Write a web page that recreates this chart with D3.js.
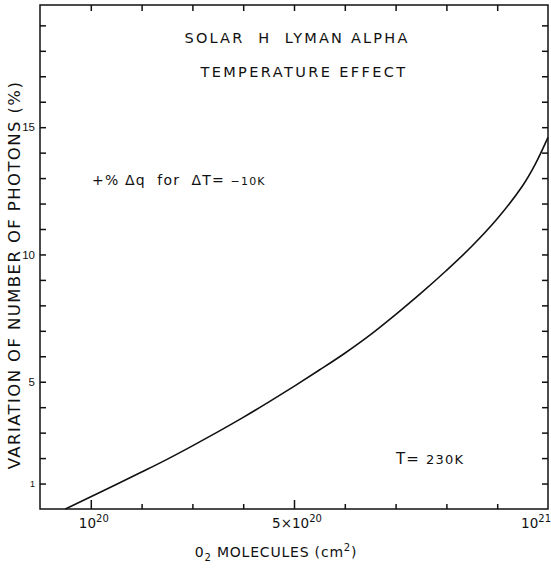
<!DOCTYPE html>
<html>
<head>
<meta charset="utf-8">
<script src="https://cdn.jsdelivr.net/npm/d3@7"></script>
<style>
  body { margin: 0; background: #fff; }
  text { font-family: "DejaVu Sans", "Liberation Sans", Arial, sans-serif; fill: #111; }
</style>
</head>
<body>
<div id="chart"></div>
<script>
// Solar H Lyman alpha - temperature effect

// ==========================================================
// Data (x in units of 1e20 molecules cm-2, y in %)
var columnDensity = [0.5, 1.0, 1.5, 2.0, 2.5, 3.0, 3.5, 4.0, 4.5, 5.0,
                     5.5, 6.0, 6.5, 7.0, 7.5, 8.0, 8.5, 9.0, 9.5, 9.75, 10.0];
var photonChange = [0.0, 0.48, 0.96, 1.45, 1.95, 2.48, 3.03, 3.6, 4.2, 4.82,
                    5.46, 6.12, 6.84, 7.64, 8.48, 9.37, 10.32, 11.4, 12.7, 13.55, 14.6];

var xTicks = [1, 2, 3, 4, 5, 6, 7, 8, 9, 10];
var xMajorTicks = [1, 5];
var xTickBase = ["10", "5\u00d710", "10"];
var xTickExp = ["20", "20", "21"];
var xLabelAt = [1, 5, 10];

var yTicks = d3.range(1, 20);
var yLabelTicks = [1, 5, 10, 15];

// ==========================================================
// Sizes
var svgWidth = 551;
var svgHeight = 568;

var margin = { top: 5, right: 3, bottom: 59, left: 40 };
var width = svgWidth - margin.left - margin.right;
var height = svgHeight - margin.top - margin.bottom;

var svg = d3.select("#chart")
  .append("svg")
  .attr("width", svgWidth)
  .attr("height", svgHeight);

var chartGroup = svg.append("g")
  .attr("transform", `translate(${margin.left}, ${margin.top})`);

var xScale = d3.scaleLinear().domain([0, 10]).range([0, width]);
var yScale = d3.scaleLinear().domain([0, 19.8]).range([height, 0]);

// frame
chartGroup.append("rect")
  .attr("width", width)
  .attr("height", height)
  .attr("fill", "none")
  .attr("stroke", "#111")
  .attr("stroke-width", 1.5);

// ==========================================================
// Axes (ticks point inward)
chartGroup.append("g")
  .attr("class", "axis")
  .attr("transform", `translate(0, ${height})`)
  .call(d3.axisBottom(xScale)
    .tickValues(xTicks.filter(d => xMajorTicks.indexOf(d) < 0 && d < 10))
    .tickSize(-5)
    .tickFormat(""));

chartGroup.append("g")
  .attr("class", "axis")
  .attr("transform", `translate(0, ${height})`)
  .call(d3.axisBottom(xScale).tickValues(xMajorTicks).tickSize(-9).tickFormat(""));

chartGroup.append("g")
  .attr("class", "axis")
  .call(d3.axisTop(xScale).tickValues(xTicks.filter(d => d < 10)).tickSize(-6).tickFormat(""));

var leftAxis = d3.axisLeft(yScale)
  .tickValues(yTicks)
  .tickSize(-6)
  .tickPadding(5)
  .tickFormat(d => yLabelTicks.indexOf(d) >= 0 ? d : "");
chartGroup.append("g")
  .attr("class", "axis")
  .call(leftAxis)
  .selectAll("text")
  .style("font-family", "'Liberation Sans', Arial, sans-serif")
  .style("font-size", d => d === 1 ? "9px" : "11.5px");

chartGroup.append("g")
  .attr("class", "axis")
  .attr("transform", `translate(${width}, 0)`)
  .call(d3.axisRight(yScale).tickValues(yTicks).tickSize(-6).tickFormat(""));

chartGroup.selectAll(".axis .domain").remove();
chartGroup.selectAll(".axis .tick line")
  .attr("stroke", "#111")
  .attr("stroke-width", 1.5);

// x tick labels with exponents
var xLab = chartGroup.selectAll(".xlab")
  .data(xLabelAt)
  .enter()
  .append("text")
  .attr("class", "xlab")
  .attr("x", d => xScale(d) + 3)
  .attr("y", height + 19)
  .attr("text-anchor", d => d === 10 ? "end" : "middle")
  .style("font-size", "13.5px");
xLab.append("tspan").text((d, i) => xTickBase[i]);
xLab.append("tspan")
  .attr("dy", -6)
  .style("font-size", "10px")
  .text((d, i) => xTickExp[i]);

// ==========================================================
// Curve
var points = columnDensity.map((d, i) => [d, photonChange[i]]);
var line = d3.line()
  .x(d => xScale(d[0]))
  .y(d => yScale(d[1]))
  .curve(d3.curveCatmullRom.alpha(0.5));

chartGroup.append("path")
  .datum(points)
  .attr("d", line)
  .attr("fill", "none")
  .attr("stroke", "#111")
  .attr("stroke-width", 1.6);

// ==========================================================
// Annotations
chartGroup.append("text")
  .attr("x", 257)
  .attr("y", 38)
  .attr("text-anchor", "middle")
  .attr("xml:space", "preserve")
  .style("font-size", "14.5px")
  .style("letter-spacing", "2.2px")
  .text("SOLAR  H  LYMAN ALPHA");

chartGroup.append("text")
  .attr("x", 264)
  .attr("y", 72)
  .attr("text-anchor", "middle")
  .style("font-size", "14.5px")
  .style("letter-spacing", "2.4px")
  .text("TEMPERATURE EFFECT");

var dq = chartGroup.append("text")
  .attr("x", 52)
  .attr("y", 180)
  .attr("xml:space", "preserve")
  .style("font-size", "14px")
  .style("letter-spacing", "1.2px");
dq.append("tspan").text("+% \u0394q  for  \u0394T= ");
dq.append("tspan").style("font-size", "11px").text("\u221210K");

var tt = chartGroup.append("text")
  .attr("x", 356)
  .attr("y", 459)
  .attr("xml:space", "preserve")
  .style("font-size", "15px")
  .style("letter-spacing", "1.2px");
tt.append("tspan").text("T= ");
tt.append("tspan").style("font-size", "13px").text("230K");

// axis titles
var xTitle = svg.append("text")
  .attr("x", margin.left + width / 2 - 18)
  .attr("y", 557)
  .attr("text-anchor", "middle")
  .attr("xml:space", "preserve")
  .style("font-size", "14px")
  .style("letter-spacing", "0.8px");
xTitle.append("tspan").text("0");
xTitle.append("tspan").attr("dy", 4).style("font-size", "10px").text("2");
xTitle.append("tspan").attr("dy", -4).text(" MOLECULES (cm");
xTitle.append("tspan").attr("dy", -6).style("font-size", "10px").text("2");
xTitle.append("tspan").attr("dy", 6).text(")");

svg.append("text")
  .attr("transform", `translate(20, ${margin.top + 270}) rotate(-90)`)
  .attr("text-anchor", "middle")
  .style("font-size", "16.5px")
  .style("letter-spacing", "1.4px")
  .text("VARIATION OF NUMBER OF PHOTONS (%)");
</script>
</body>
</html>
